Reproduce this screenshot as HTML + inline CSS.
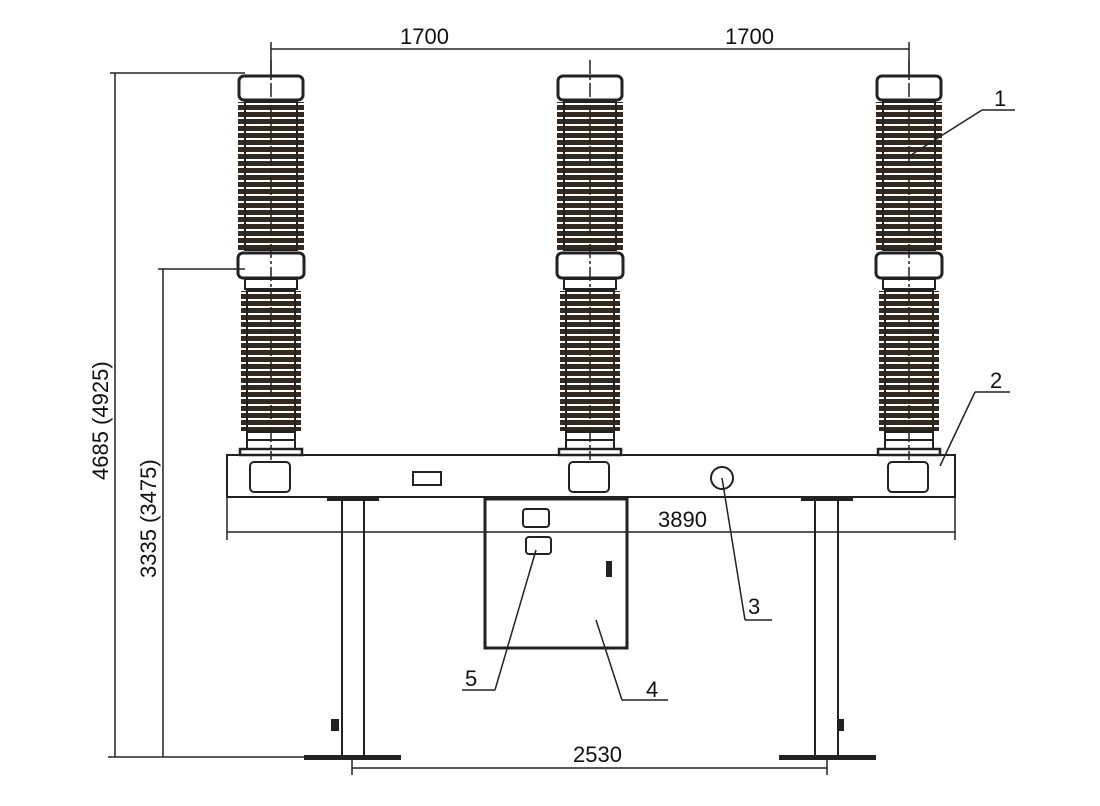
<!DOCTYPE html>
<html><head><meta charset="utf-8"><style>
body{margin:0;background:#fff}
svg{display:block}
text{font-family:"Liberation Sans",sans-serif;font-size:22px;fill:#111}
</style></head><body>
<svg width="1100" height="806" viewBox="0 0 1100 806" xmlns="http://www.w3.org/2000/svg">
<defs>
<pattern id="sh" x="0" y="0" width="80" height="7" patternUnits="userSpaceOnUse">
<rect x="0" y="0" width="80" height="5" fill="#33291f"/>
</pattern>
<g id="col">
<rect x="-32" y="76" width="64" height="24" rx="5" fill="#fff" stroke="#222" stroke-width="3"/>
<rect x="-33" y="102" width="66" height="148" fill="url(#sh)"/>
<rect x="-26" y="102" width="52" height="148" fill="none" stroke="#222" stroke-width="2"/>
<rect x="-33" y="253" width="66" height="25" rx="5" fill="#fff" stroke="#222" stroke-width="3"/>
<rect x="-26" y="279" width="52" height="10" fill="#fff" stroke="#222" stroke-width="2"/>
<rect x="-30" y="291" width="60" height="140" fill="url(#sh)"/>
<rect x="-24" y="291" width="48" height="140" fill="none" stroke="#222" stroke-width="2"/>
<rect x="-24" y="432" width="48" height="8" fill="#fff" stroke="#222" stroke-width="2"/>
<rect x="-24" y="440" width="48" height="10" fill="#fff" stroke="#222" stroke-width="2"/>
<rect x="-31" y="449" width="62" height="6" fill="#fff" stroke="#222" stroke-width="2.5"/>
<line x1="0" y1="60" x2="0" y2="460" stroke="#222" stroke-width="1.5" stroke-dasharray="14,3,3,3"/>
<rect x="-21" y="462" width="40" height="30" rx="4" fill="#fff" stroke="#222" stroke-width="2"/>
</g>
</defs>
<g stroke="#222" fill="none" stroke-width="2">
<rect x="227" y="455" width="728" height="42" fill="#fff"/>
</g>
<use href="#col" x="271"/>
<use href="#col" x="590"/>
<use href="#col" x="909"/>
<g stroke="#222" fill="none" stroke-width="2">
<rect x="413" y="472" width="28" height="13"/>
<circle cx="722" cy="478" r="11"/>
<rect x="328" y="497" width="50" height="3" fill="#222"/>
<line x1="342" y1="497" x2="342" y2="757"/><line x1="364" y1="497" x2="364" y2="757"/>
<rect x="802" y="497" width="50" height="3" fill="#222"/>
<line x1="815" y1="497" x2="815" y2="757"/><line x1="838" y1="497" x2="838" y2="757"/>
<rect x="305" y="756" width="95" height="3" fill="#222"/>
<rect x="780" y="756" width="95" height="3" fill="#222"/>
<rect x="332" y="720" width="6" height="10" fill="#222"/>
<rect x="838" y="720" width="5" height="10" fill="#222"/>
<rect x="485" y="499" width="142" height="149" stroke-width="3" fill="#fff"/>
<line x1="485" y1="498" x2="627" y2="498" stroke-width="4"/>
<rect x="523" y="509" width="26" height="18" rx="3"/>
<rect x="526" y="537" width="25" height="17" rx="3"/>
<path d="M607 562 l4 0 l0 14 l-4 0z" fill="#222"/>
<g stroke-width="1.5">
<line x1="271" y1="49" x2="909" y2="49"/>
<line x1="271" y1="42" x2="271" y2="75"/><line x1="909" y1="42" x2="909" y2="75"/>
<line x1="110" y1="73" x2="245" y2="73"/>
<line x1="115" y1="73" x2="115" y2="757"/>
<line x1="158" y1="269" x2="245" y2="269"/>
<line x1="163" y1="269" x2="163" y2="757"/>
<line x1="108" y1="757" x2="330" y2="757"/>
<line x1="227" y1="532" x2="955" y2="532"/>
<line x1="227" y1="497" x2="227" y2="540"/><line x1="955" y1="497" x2="955" y2="540"/>
<line x1="352" y1="768" x2="827" y2="768"/>
<line x1="352" y1="757" x2="352" y2="775"/><line x1="827" y1="757" x2="827" y2="775"/>
<line x1="911" y1="155" x2="982" y2="110"/><line x1="982" y1="110" x2="1015" y2="110"/>
<line x1="940" y1="466" x2="975" y2="392"/><line x1="975" y1="392" x2="1010" y2="392"/>
<line x1="722" y1="478" x2="745" y2="620"/><line x1="745" y1="620" x2="772" y2="620"/>
<line x1="536" y1="550" x2="495" y2="690"/><line x1="462" y1="690" x2="495" y2="690"/>
<line x1="596" y1="620" x2="622" y2="700"/><line x1="622" y1="700" x2="668" y2="700"/>
</g>
</g>
<text x="400" y="44">1700</text>
<text x="725" y="44">1700</text>
<text x="658" y="527">3890</text>
<text x="573" y="762">2530</text>
<text x="994" y="106">1</text>
<text x="990" y="388">2</text>
<text x="748" y="614">3</text>
<text x="646" y="697">4</text>
<text x="465" y="686">5</text>
<text transform="translate(108,480) rotate(-90)">4685 (4925)</text>
<text transform="translate(156,578) rotate(-90)">3335 (3475)</text>
</svg>
</body></html>
